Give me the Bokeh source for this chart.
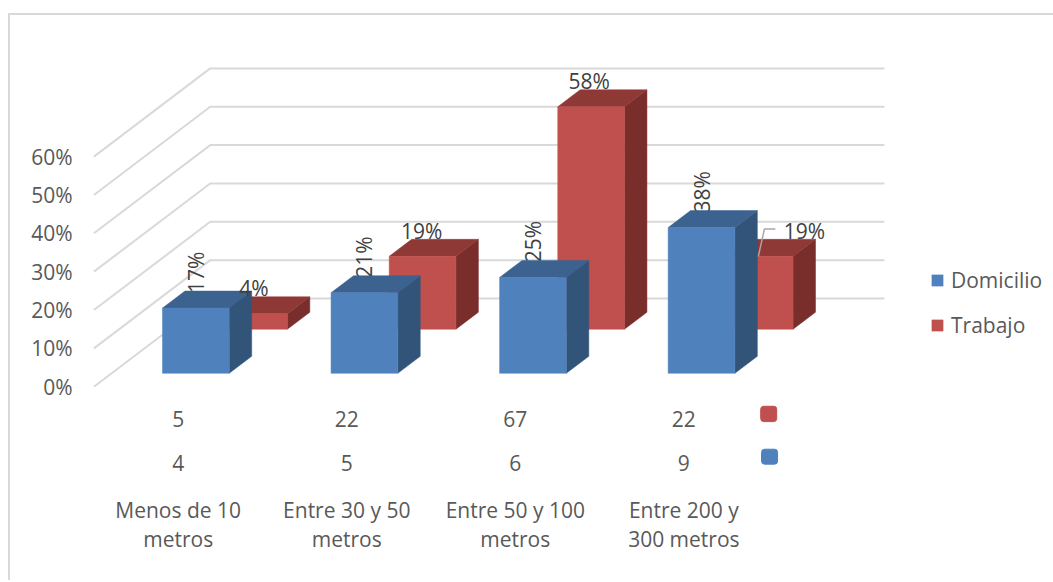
import math
from bokeh.core.properties import value
from bokeh.embed import file_html
from bokeh.models import FixedTicker, Legend, LegendItem, LinearAxis, Range1d
from bokeh.plotting import figure
from bokeh.resources import INLINE

# Survey data: share of answers per distance band, with the raw counts shown below the bars
categories = ["Menos de 10\nmetros", "Entre 30 y 50\nmetros", "Entre 50 y 100\nmetros", "Entre 200 y\n300 metros"]
domicilio_pct = [17, 21, 25, 38]
trabajo_pct = [4, 19, 58, 19]
domicilio_counts = ["4", "5", "6", "9"]
trabajo_counts = ["5", "22", "67", "22"]
axis_ticks = [0, 10, 20, 30, 40, 50, 60]

FONT = "Open Sans"
FONT_SIZE = "21px"
GRID = "#d9d9d9"
BLUE = ("#4f81bd", "#3c6290", "#325479")   # front, top, side
RED = ("#c0504d", "#8f3937", "#7a2e2c")

# Oblique projection: depth 0 is the front of the floor, depth 1 the back wall
DEPTH_X = 0.69     # category units per unit of depth
DEPTH_Y = 23.0     # percentage points per unit of depth
HALF_W = 0.198
BAR_DEPTH = 0.193
BLUE_DEPTH = 0.152
RED_DEPTH = 0.652


def project(x, y, d):
    return x + d * DEPTH_X, y + d * DEPTH_Y


def box_faces(i, val, depth):
    """Front, top and side polygons of one bar standing at the given depth."""
    fx0, fy0 = project(i - HALF_W, 0, depth)
    fx1, fy1 = project(i + HALF_W, val, depth)
    ox = BAR_DEPTH * DEPTH_X
    oy = BAR_DEPTH * DEPTH_Y
    front = ([fx0, fx1, fx1, fx0], [fy0, fy0, fy1, fy1])
    top = ([fx0, fx1, fx1 + ox, fx0 + ox], [fy1, fy1, fy1 + oy, fy1 + oy])
    side = ([fx1, fx1 + ox, fx1 + ox, fx1], [fy0, fy0 + oy, fy1 + oy, fy1])
    return front, top, side


WIDTH, HEIGHT = 1045, 567
LEFT = 68
p = figure(
    width=WIDTH, height=HEIGHT, output_backend="svg", toolbar_location=None,
    x_range=Range1d(-0.5915, 5.2050), y_range=Range1d(-51.06, 96.8),
    x_axis_type=None, y_axis_type=None,
    min_border_left=LEFT, min_border_right=0, min_border_top=0, min_border_bottom=0,
    outline_line_color=None, background_fill_color="white", border_fill_color="white",
    margin=(13, 0, 0, 8),
    styles={"border-top": f"2px solid {GRID}", "border-left": f"2px solid {GRID}"},
)
p.grid.visible = False

yaxis = LinearAxis(
    ticker=FixedTicker(ticks=axis_ticks), bounds=(0, 60),
    axis_line_color=None, major_tick_line_color=None, minor_tick_line_color=None,
    major_tick_out=0, minor_tick_out=0,
    major_label_overrides={t: f"{t}%" for t in axis_ticks},
    major_label_text_font=FONT, major_label_text_font_size=FONT_SIZE,
    major_label_text_color="#595959", major_label_standoff=6,
)
p.add_layout(yaxis, "left")

# Walls: each gridline runs along the floor side, then across the back
for t in axis_ticks:
    x0, y0 = project(-0.5, t, 0)
    x1, y1 = project(-0.5, t, 1)
    x2, y2 = project(len(categories) - 0.5, t, 1)
    p.line([x0, x1, x2], [y0, y1, y2], line_color=GRID, line_width=2)

# Rotated labels of the front series sit behind the bar tops
for i, v in enumerate(domicilio_pct):
    lx, ly = project(i, v, BLUE_DEPTH + BAR_DEPTH)
    p.text([lx - BAR_DEPTH * DEPTH_X], [ly - 0.5], text=[f"{v}%"], angle=math.pi / 2,
           text_align="left", text_baseline="middle", text_font=value(FONT),
           text_font_size=FONT_SIZE, text_color="#404040")


def draw_bars_per_category():
    """Bars paint back to front, category by category, so nearer ones overlap."""
    out = {}
    for i in range(len(categories)):
        for values, depth, colors, key in (
            (trabajo_pct, RED_DEPTH, RED, "t"), (domicilio_pct, BLUE_DEPTH, BLUE, "d"),
        ):
            front, top, side = box_faces(i, values[i], depth)
            p.patch(*side, fill_color=colors[2], line_color=colors[2], line_width=0.5)
            p.patch(*top, fill_color=colors[1], line_color=colors[1], line_width=0.5)
            r = p.patch(*front, fill_color=colors[0], line_color=colors[0], line_width=0.5)
            out.setdefault(key, r)
    return out


legend_refs = draw_bars_per_category()

# Labels of the back series; the last one moves clear of the front bar
label_dx = [0.0, -0.006, -0.012, 0.265]
label_dy = 2.2
for i, v in enumerate(trabajo_pct):
    lx, ly = project(i, v, RED_DEPTH + BAR_DEPTH)
    p.text([lx - BAR_DEPTH * DEPTH_X + label_dx[i]], [ly + label_dy], text=[f"{v}%"],
           text_align="center", text_baseline="middle", text_font=value(FONT),
           text_font_size=FONT_SIZE, text_color="#404040")

# Leader line from the last bar to its displaced label
lead_x, lead_y = project(3 - HALF_W, trabajo_pct[3], RED_DEPTH)
p.line([lead_x + 0.19, lead_x + 0.226, lead_x + 0.291], [lead_y, lead_y + 7.1, lead_y + 7.1],
       line_color="#a6a6a6", line_width=1.5)

# Raw counts and category names under the floor
rows = [(-8.4, trabajo_counts), (-19.9, domicilio_counts)]
for y, counts in rows:
    p.text(list(range(len(counts))), [y] * len(counts), text=counts,
           text_align="center", text_baseline="middle", text_font=value(FONT),
           text_font_size=FONT_SIZE, text_color="#595959")
p.text(list(range(len(categories))), [-36.0] * len(categories), text=categories,
       text_align="center", text_baseline="middle", text_font=value(FONT),
       text_font_size=FONT_SIZE, text_line_height=1.03, text_color="#595959")

# Row keys beside the counts
p.quad(left=[3.456], right=[3.551], bottom=[-9.1], top=[-5.1], fill_color=RED[0],
       line_color=RED[0], border_radius=3)
p.quad(left=[3.461], right=[3.556], bottom=[-20.2], top=[-16.3], fill_color=BLUE[0],
       line_color=BLUE[0], border_radius=3)

legend = Legend(
    items=[LegendItem(label="Domicilio", renderers=[legend_refs["d"]]),
           LegendItem(label="Trabajo", renderers=[legend_refs["t"]])],
    location=(852, 243), orientation="vertical", background_fill_alpha=0, border_line_color=None,
    glyph_width=14, glyph_height=14, label_standoff=7, spacing=17, padding=0, margin=0,
    label_text_font=FONT, label_text_font_size=FONT_SIZE, label_text_color="#595959",
)
p.add_layout(legend)

open("out.html", "w").write(file_html(p, INLINE))
